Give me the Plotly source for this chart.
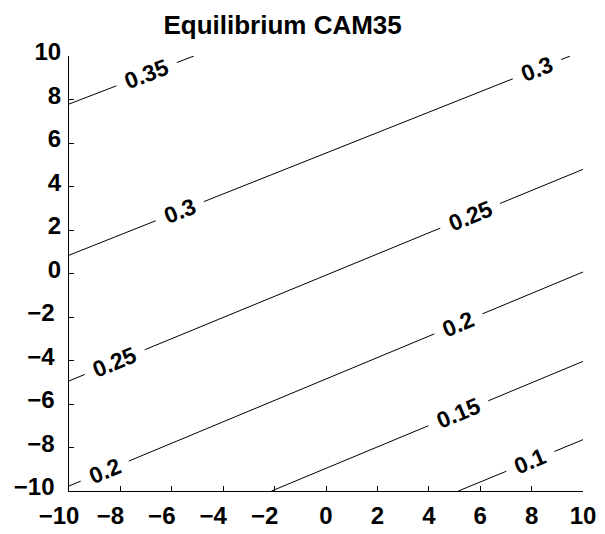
import numpy as np
import plotly.graph_objects as go

# Contour levels of the equilibrium field and where each level line
# enters and leaves the [-10, 10] x [-10, 10] window.
levels = [0.35, 0.3, 0.25, 0.2, 0.15, 0.1]
level_text = ["0.35", "0.3", "0.25", "0.2", "0.15", "0.1"]
x_start = [-10.0, -10.0, -10.0, -10.0, -2.12, 5.15]
y_start = [7.79, 0.84, -4.94, -9.77, -10.0, -10.0]
x_end = [-5.14, 9.5, 10.0, 10.0, 10.0, 10.0]
y_end = [10.0, 10.0, 4.79, 0.07, -4.04, -7.64]

# x positions of the inline level labels along each line
label_x = [[-6.98], [-5.69, 8.21], [-8.22, 5.61], [-8.61, 5.15], [5.15], [7.95]]

tick_vals = [-10, -8, -6, -4, -2, 0, 2, 4, 6, 8, 10]

# figure geometry
W, H = 605, 534
M_L, M_R, M_T, M_B = 69, 22, 56, 43
FONT = "Liberation Sans, Arial, sans-serif"
LABEL_SIZE = 23
TICK_SIZE = 24
ppu_x = (W - M_L - M_R) / 20.0
ppu_y = (H - M_T - M_B) / 20.0
NBSP = "\u00a0"


def text_width(s, size):
    return sum(0.278 if c == "." else 0.556 for c in s) * size


fig = go.Figure()
annotations = []

for i, lev in enumerate(levels):
    xs_line = [x_start[i], x_end[i]]
    ys_line = [y_start[i], y_end[i]]
    slope = (y_end[i] - y_start[i]) / (x_end[i] - x_start[i])
    ang = np.arctan(slope * ppu_y / ppu_x)
    half_gap_px = text_width(level_text[i], LABEL_SIZE) / 2 + 10
    half_gap_x = half_gap_px * np.cos(ang) / ppu_x

    px, py = [x_start[i]], [y_start[i]]
    for lx in sorted(label_x[i]):
        a, b = lx - half_gap_x, lx + half_gap_x
        px += [a, None, b]
        py += [float(np.interp(a, xs_line, ys_line)), None,
               float(np.interp(b, xs_line, ys_line))]
        annotations.append(dict(
            x=lx, y=float(np.interp(lx, xs_line, ys_line)),
            xref="x", yref="y", text=level_text[i], showarrow=False,
            textangle=-float(np.degrees(ang)),
            xanchor="center", yanchor="middle",
            font=dict(family=FONT, size=LABEL_SIZE, color="black",
                      weight="bold"),
        ))
    px.append(x_end[i])
    py.append(y_end[i])

    fig.add_trace(go.Scatter(
        x=px, y=py, mode="lines", name=level_text[i],
        line=dict(color="black", width=1), hoverinfo="skip",
        showlegend=False, connectgaps=False,
    ))


def tick_label(v, pad):
    return ("\u2212" + str(-v) + NBSP * pad) if v < 0 else str(v)


axis_common = dict(
    range=[-10, 10], tickvals=tick_vals, tickangle=0, automargin=False,
    ticks="inside", ticklen=5, tickwidth=1, tickcolor="black",
    showline=True, linecolor="black", linewidth=1, mirror=False,
    showgrid=False, zeroline=False,
    tickfont=dict(family=FONT, size=TICK_SIZE, color="black", weight="bold"),
)

fig.update_layout(
    width=W, height=H,
    margin=dict(l=M_L, r=M_R, t=M_T, b=M_B),
    paper_bgcolor="white", plot_bgcolor="white",
    title=dict(
        text="Equilibrium CAM35",
        x=282.6 / W, xref="container", xanchor="center",
        y=1 - 25.0 / H, yref="container", yanchor="middle",
        font=dict(family=FONT, size=26, color="black", weight="bold"),
    ),
    xaxis=dict(**axis_common,
               ticktext=[tick_label(v, 3) for v in tick_vals],
               ticklabelstandoff=3),
    yaxis=dict(**axis_common,
               ticktext=[tick_label(v, 1) for v in tick_vals],
               ticklabelstandoff=2, ticklabelshift=-4),
    annotations=annotations,
)

fig.write_html("out.html")
